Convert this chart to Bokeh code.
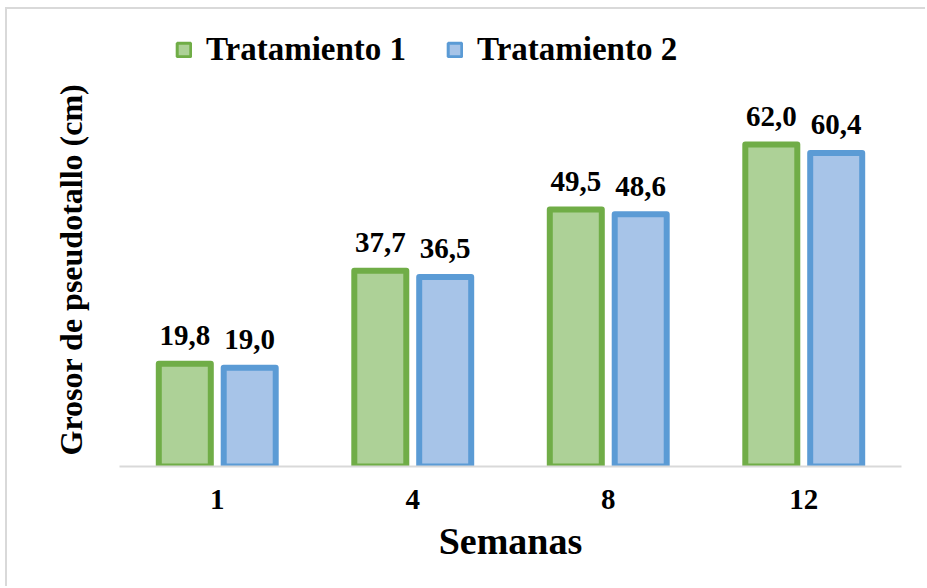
from bokeh.plotting import figure
from bokeh.models import (ColumnDataSource, FactorRange, Range1d, Legend, LegendItem, Title)
from bokeh.transform import dodge
from bokeh.core.properties import value
from bokeh.embed import file_html
from bokeh.resources import INLINE

semanas = ["1", "4", "8", "12"]
trat1 = [19.8, 37.7, 49.5, 62.0]
trat2 = [19.0, 36.5, 48.6, 60.4]
series_names = ["Tratamiento 1", "Tratamiento 2"]

FONT = "Liberation Serif"
G_LINE, G_FILL = "#70ad47", "#add197"
B_LINE, B_FILL = "#5b9bd5", "#a7c4e8"

src = ColumnDataSource(dict(
    semana=semanas,
    t1=trat1,
    t2=trat2,
    l1=[f"{v:.1f}".replace(".", ",") for v in trat1],
    l2=[f"{v:.1f}".replace(".", ",") for v in trat2],
))

p = figure(width=920, height=579, output_backend="svg", toolbar_location=None,
           x_range=FactorRange(*semanas, range_padding=0),
           y_range=Range1d(0, 85.9), y_axis_location=None,
           min_border_left=112, min_border_right=26,
           min_border_top=11, min_border_bottom=122)
p.styles = {"margin-left": "5px", "margin-top": "7px",
            "border-left": "2px solid #d9d9d9", "border-top": "2px solid #d9d9d9"}
p.outline_line_color = None
p.grid.visible = False
p.background_fill_color = "white"
p.border_fill_color = "white"

off = 0.166
bw = 0.266
p.vbar(x=dodge("semana", -off, range=p.x_range), top="t1", width=bw, bottom=0,
       source=src, fill_color=G_FILL, line_color=G_LINE, line_width=6, line_join="round")
p.vbar(x=dodge("semana", off, range=p.x_range), top="t2", width=bw, bottom=0,
       source=src, fill_color=B_FILL, line_color=B_LINE, line_width=6, line_join="round")

for col, lab, o in (("t1", "l1", -off), ("t2", "l2", off)):
    p.text(x=dodge("semana", o, range=p.x_range), y=col, text=lab, source=src,
           text_align="center", text_baseline="alphabetic", y_offset=-28,
           text_font=value(FONT), text_font_style="bold", text_font_size="29px",
           text_color="black")

# legend glyph renderers (placed below the visible range, so only the legend shows them)
dummy = ColumnDataSource(dict(l=["1"], r=["1"], b=[-10], t=[-5]))
q1 = p.quad(left="l", right="r", bottom="b", top="t", source=dummy,
            fill_color=G_FILL, line_color=G_LINE, line_width=3)
q2 = p.quad(left="l", right="r", bottom="b", top="t", source=dummy,
            fill_color=B_FILL, line_color=B_LINE, line_width=3)
legend = Legend(items=[LegendItem(label=series_names[0], renderers=[q1]),
                       LegendItem(label=series_names[1], renderers=[q2])],
                orientation="horizontal", location=(56, 398),
                padding=0, margin=0, spacing=40, label_standoff=14,
                glyph_width=17, glyph_height=17,
                label_text_font=FONT, label_text_font_style="bold",
                label_text_font_size="33px", label_text_color="black",
                border_line_color=None, background_fill_alpha=0)
p.add_layout(legend)

# y-axis title (left side, shifted toward the bottom as in the original)
p.add_layout(Title(text="Grosor de pseudotallo (cm)", align="left", offset=11,
                   vertical_align="bottom", standoff=62,
                   text_font=FONT, text_font_style="bold", text_font_size="32px",
                   text_color="black"), "left")

# x axis
xa = p.xaxis[0]
xa.axis_line_color = "#d9d9d9"
xa.axis_line_width = 2
xa.major_tick_line_color = None
xa.minor_tick_line_color = None
xa.major_tick_in = 0
xa.major_tick_out = 0
xa.major_label_standoff = 23
xa.major_label_text_font = FONT
xa.major_label_text_font_style = "bold"
xa.major_label_text_font_size = "29px"
xa.major_label_text_color = "black"
xa.axis_label = "Semanas"
xa.axis_label_text_font = FONT
xa.axis_label_text_font_style = "bold"
xa.axis_label_text_font_size = "38px"
xa.axis_label_text_color = "black"
xa.axis_label_standoff = 8

open("out.html", "w").write(file_html(p, INLINE))
